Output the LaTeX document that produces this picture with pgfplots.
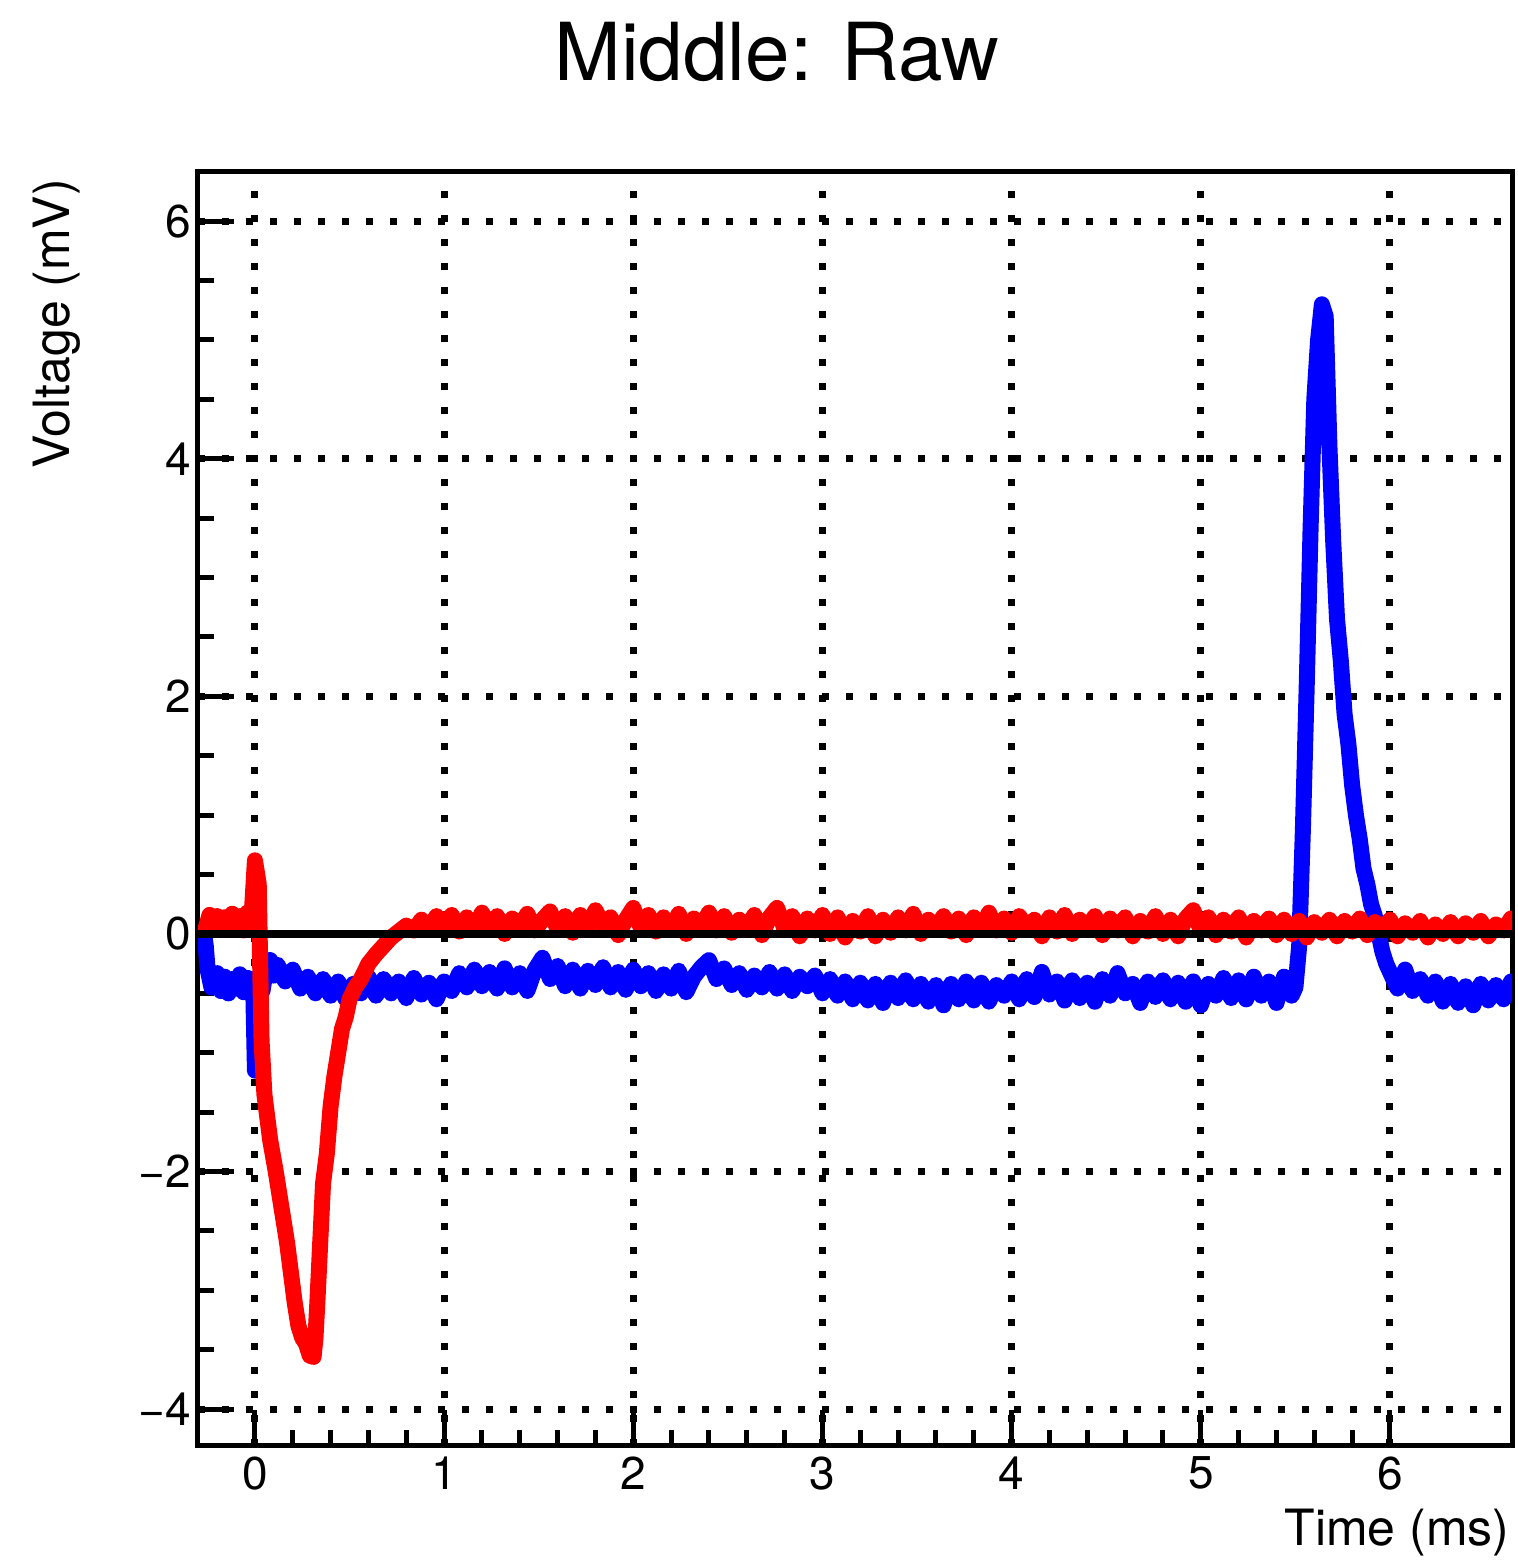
\documentclass[border=0pt]{standalone}
\usepackage{fontspec}
\setmainfont{TeX Gyre Heros}
\usepackage{pgfplots}
\pgfplotsset{compat=1.18}
\begin{document}
\begin{tikzpicture}
\useasboundingbox (-99pt,-57.5pt) rectangle (660pt,723pt);
\begin{axis}[
  at={(0,0)}, anchor=south west,
  scale only axis, width=657pt, height=637pt,
  xmin=-0.301, xmax=6.645, ymin=-4.31, ymax=6.414,
  axis line style={line width=2.5pt},
  xtick={0,1,2,3,4,5,6}, ytick={-4,-2,0,2,4,6},
  yticklabels={−4,−2,0,2,4,6},
  minor x tick num=4, minor y tick num=3,
  tick align=inside, xtick pos=bottom, ytick pos=left,
  major tick length=18pt, minor tick length=8pt,
  every tick/.style={black, line width=2.5pt},
  grid=major,
  major grid style={black, line width=3.5pt, dash pattern=on 3.5pt off 8.5pt},
  tick label style={font=\fontsize{23}{27}\selectfont},
  xticklabel style={yshift=-2pt},
  /pgf/number format/assume math mode=true,
  clip=true,
]
% blue channel
\addplot[blue, line width=8pt, line join=round, line cap=round] coordinates {
(-0.27,0.02) (-0.26,-0.10) (-0.25,-0.30) (-0.23,-0.45) (-0.20,-0.33) (-0.18,-0.48)
(-0.16,-0.36) (-0.14,-0.50) (-0.12,-0.38) (-0.10,-0.46) (-0.08,-0.34) (-0.06,-0.49)
(-0.04,-0.37) (-0.02,-0.45) (-0.01,-0.38) (0.00,-1.15) (0.01,-0.55) (0.04,-0.48)
(0.06,-0.28) (0.08,-0.22) (0.10,-0.35) (0.12,-0.26) (0.16,-0.40) (0.20,-0.30)
(0.24,-0.46) (0.28,-0.36) (0.32,-0.50) (0.36,-0.38) (0.40,-0.52) (0.44,-0.40)
(0.48,-0.55) (0.52,-0.42) (0.56,-0.50) (0.60,-0.36) (0.64,-0.52) (0.68,-0.38)
(0.72,-0.50) (0.76,-0.40) (0.80,-0.54) (0.84,-0.37) (0.88,-0.51) (0.92,-0.41)
(0.96,-0.55) (1.00,-0.40) (1.04,-0.48) (1.08,-0.33) (1.12,-0.45) (1.16,-0.30)
(1.20,-0.44) (1.24,-0.32) (1.28,-0.46) (1.32,-0.29) (1.36,-0.45) (1.40,-0.33)
(1.44,-0.48) (1.48,-0.30) (1.52,-0.20) (1.56,-0.38) (1.60,-0.27) (1.64,-0.44)
(1.68,-0.30) (1.72,-0.46) (1.76,-0.31) (1.80,-0.43) (1.84,-0.28) (1.88,-0.45)
(1.92,-0.32) (1.96,-0.47) (2.00,-0.30) (2.04,-0.44) (2.08,-0.33) (2.12,-0.48)
(2.16,-0.34) (2.20,-0.46) (2.24,-0.31) (2.28,-0.49) (2.32,-0.36) (2.36,-0.28)
(2.40,-0.22) (2.44,-0.38) (2.48,-0.29) (2.52,-0.43) (2.56,-0.33) (2.60,-0.47)
(2.64,-0.35) (2.68,-0.45) (2.72,-0.32) (2.76,-0.46) (2.80,-0.34) (2.84,-0.48)
(2.88,-0.36) (2.92,-0.44) (2.96,-0.35) (3.00,-0.50) (3.04,-0.38) (3.08,-0.52)
(3.12,-0.40) (3.16,-0.55) (3.20,-0.41) (3.24,-0.56) (3.28,-0.42) (3.32,-0.58)
(3.36,-0.41) (3.40,-0.54) (3.44,-0.39) (3.48,-0.55) (3.52,-0.42) (3.56,-0.57)
(3.60,-0.43) (3.64,-0.60) (3.68,-0.42) (3.72,-0.55) (3.76,-0.40) (3.80,-0.56)
(3.84,-0.41) (3.88,-0.57) (3.92,-0.43) (3.96,-0.52) (4.00,-0.40) (4.04,-0.55)
(4.08,-0.38) (4.12,-0.53) (4.16,-0.32) (4.20,-0.51) (4.24,-0.40) (4.28,-0.56)
(4.32,-0.39) (4.36,-0.54) (4.40,-0.41) (4.44,-0.57) (4.48,-0.38) (4.52,-0.52)
(4.56,-0.33) (4.60,-0.50) (4.64,-0.42) (4.68,-0.58) (4.72,-0.40) (4.76,-0.53)
(4.80,-0.39) (4.84,-0.55) (4.88,-0.41) (4.92,-0.57) (4.96,-0.40) (5.00,-0.60)
(5.04,-0.42) (5.08,-0.52) (5.12,-0.37) (5.16,-0.54) (5.20,-0.39) (5.24,-0.55)
(5.28,-0.36) (5.32,-0.52) (5.36,-0.40) (5.40,-0.58) (5.44,-0.36) (5.48,-0.52)
(5.50,-0.45) (5.52,-0.10) (5.54,0.90) (5.56,2.10) (5.58,3.40) (5.60,4.50)
(5.62,5.00) (5.64,5.30) (5.66,5.20) (5.68,4.10) (5.70,3.30) (5.72,2.65)
(5.74,2.30) (5.76,1.85) (5.78,1.60) (5.80,1.25) (5.82,1.00) (5.84,0.80)
(5.86,0.55) (5.88,0.42) (5.90,0.25) (5.92,0.15) (5.94,0.00) (5.96,-0.15)
(5.98,-0.25) (6.00,-0.32) (6.04,-0.46) (6.08,-0.30) (6.12,-0.48) (6.16,-0.38)
(6.20,-0.52) (6.24,-0.40) (6.28,-0.57) (6.32,-0.42) (6.36,-0.58) (6.40,-0.44)
(6.44,-0.60) (6.48,-0.42) (6.52,-0.56) (6.56,-0.43) (6.60,-0.55) (6.64,-0.40)
};
% red channel
\addplot[red, line width=8pt, line join=round, line cap=round] coordinates {
(-0.26,0.05) (-0.24,0.16) (-0.22,0.06) (-0.20,0.15) (-0.18,0.04) (-0.16,0.14)
(-0.14,0.07) (-0.12,0.17) (-0.10,0.05) (-0.08,0.15) (-0.06,0.03) (-0.04,0.18)
(-0.02,0.08) (0.00,0.62) (0.02,0.42) (0.035,-0.90) (0.05,-1.35)
(0.08,-1.73) (0.11,-2.00) (0.13,-2.20) (0.15,-2.40) (0.17,-2.60) (0.19,-2.85)
(0.21,-3.10) (0.23,-3.30) (0.25,-3.40) (0.27,-3.45) (0.29,-3.55) (0.31,-3.56)
(0.32,-3.40) (0.33,-3.10) (0.345,-2.60) (0.36,-2.10) (0.38,-1.85) (0.40,-1.45)
(0.42,-1.20) (0.44,-1.00) (0.46,-0.80) (0.48,-0.70) (0.50,-0.55) (0.53,-0.45)
(0.56,-0.38) (0.60,-0.25) (0.64,-0.17) (0.68,-0.10) (0.72,-0.03) (0.76,0.02)
(0.80,0.07) (0.84,0.03) (0.88,0.12) (0.92,0.05) (0.96,0.15) (1.00,0.06)
(1.04,0.16) (1.08,0.02) (1.12,0.14) (1.16,0.04) (1.20,0.18) (1.24,0.05)
(1.28,0.15) (1.32,0.00) (1.36,0.13) (1.40,0.06) (1.44,0.17) (1.48,0.03)
(1.52,0.12) (1.56,0.19) (1.60,0.04) (1.64,0.15) (1.68,0.01) (1.72,0.16)
(1.76,0.05) (1.80,0.20) (1.84,0.07) (1.88,0.14) (1.92,-0.01) (1.96,0.12)
(2.00,0.22) (2.04,0.05) (2.08,0.16) (2.12,0.02) (2.16,0.14) (2.20,0.04)
(2.24,0.17) (2.28,0.00) (2.32,0.13) (2.36,0.06) (2.40,0.18) (2.44,0.03)
(2.48,0.15) (2.52,0.01) (2.56,0.12) (2.60,0.05) (2.64,0.16) (2.68,-0.01)
(2.72,0.14) (2.76,0.22) (2.80,0.04) (2.84,0.15) (2.88,-0.02) (2.92,0.13)
(2.96,0.03) (3.00,0.16) (3.04,0.00) (3.08,0.14) (3.12,-0.03) (3.16,0.11)
(3.20,0.02) (3.24,0.15) (3.28,-0.02) (3.32,0.12) (3.36,0.01) (3.40,0.14)
(3.44,0.03) (3.48,0.17) (3.52,0.00) (3.56,0.12) (3.60,0.05) (3.64,0.15)
(3.68,0.02) (3.72,0.13) (3.76,-0.01) (3.80,0.14) (3.84,0.04) (3.88,0.18)
(3.92,0.03) (3.96,0.13) (4.00,0.01) (4.04,0.15) (4.08,0.05) (4.12,0.12)
(4.16,-0.02) (4.20,0.14) (4.24,0.02) (4.28,0.16) (4.32,0.00) (4.36,0.12)
(4.40,0.04) (4.44,0.15) (4.48,-0.01) (4.52,0.13) (4.56,0.03) (4.60,0.14)
(4.64,-0.02) (4.68,0.11) (4.72,0.02) (4.76,0.15) (4.80,0.00) (4.84,0.12)
(4.88,-0.02) (4.92,0.13) (4.96,0.20) (5.00,0.03) (5.04,0.14) (5.08,-0.01)
(5.12,0.12) (5.16,0.02) (5.20,0.14) (5.24,-0.03) (5.28,0.11) (5.32,0.03)
(5.36,0.13) (5.40,-0.01) (5.44,0.12) (5.48,0.00) (5.52,0.11) (5.56,-0.03)
(5.60,0.10) (5.64,0.01) (5.68,0.12) (5.72,-0.02) (5.76,0.11) (5.80,0.02)
(5.84,0.13) (5.88,-0.01) (5.92,0.10) (5.96,0.03) (6.00,0.12) (6.04,-0.02)
(6.08,0.09) (6.12,0.01) (6.16,0.11) (6.20,-0.03) (6.24,0.08) (6.28,0.00)
(6.32,0.10) (6.36,-0.02) (6.40,0.09) (6.44,0.01) (6.48,0.11) (6.52,-0.02)
(6.56,0.08) (6.60,0.03) (6.64,0.13)
};
% zero line
\addplot[black, line width=4pt] coordinates {(-0.301,0) (6.645,0)};
\end{axis}
\node[font=\fontsize{40}{48}\selectfont] at (289.5pt,697pt) {Middle: Raw};
\node[anchor=east, rotate=90, font=\fontsize{25}{30}\selectfont] at (-70.5pt,637pt) {Voltage (mV)};
\node[anchor=east, font=\fontsize{25}{30}\selectfont, inner sep=1pt] at (657pt,-43.5pt) {Time (ms)};
\end{tikzpicture}
\end{document}
